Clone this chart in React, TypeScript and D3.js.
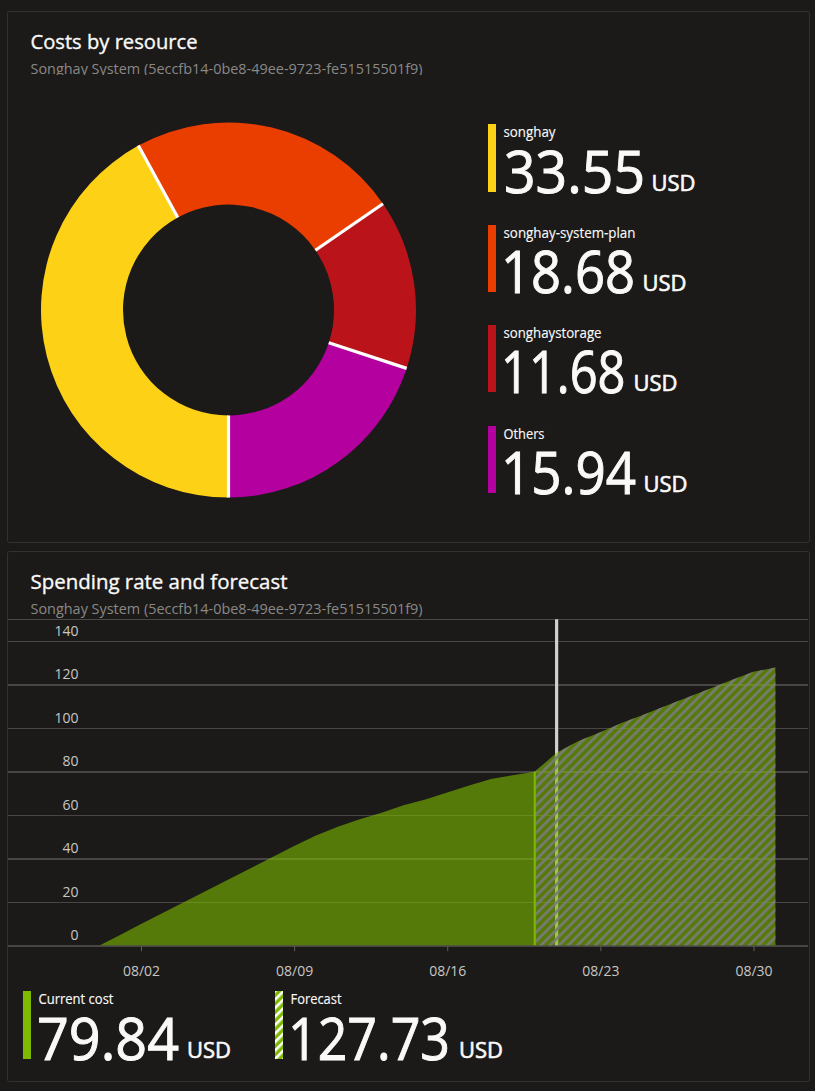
import * as d3 from "d3";
import { useEffect, useRef } from "react";

const resources = ["songhay", "songhay-system-plan", "songhaystorage", "Others"];
const resourceCosts = [33.55, 18.68, 11.68, 15.94];
const resourceColors = ["#fcd116", "#ea3e00", "#ba141a", "#b4009e"];

const currentDates = [
  "07-31 03", "08-01 00", "08-02 00", "08-09 00", "08-10 00", "08-11 00", "08-12 00", "08-13 00",
  "08-14 00", "08-15 00", "08-16 00", "08-17 00", "08-18 00", "08-19 00", "08-20 00",
];
const currentCosts = [0, 4.5, 9.7, 45.6, 50.5, 54.5, 58, 61, 64.4, 67, 70.3, 73.5, 76.5, 78.2, 79.84];

const forecastDates = [
  "08-20 00", "08-21 00", "08-22 00", "08-23 00", "08-24 00", "08-25 00", "08-26 00",
  "08-27 00", "08-28 00", "08-29 00", "08-30 00", "08-31 00",
];
const forecastCosts = [79.84, 88.5, 94, 98, 102.3, 106.2, 110.2, 114.1, 118, 122, 125.8, 127.73];

const yTicks = [0, 20, 40, 60, 80, 100, 120, 140, 150];
const xTicks = ["08-02 00", "08-09 00", "08-16 00", "08-23 00", "08-30 00"];
const today = "08-21 00";
const subtitle = "Songhay System (5eccfb14-0be8-49ee-9723-fe51515501f9)";

const FONT = "'Open Sans', sans-serif";
const parse = (s: string) => d3.timeParse("%Y-%m-%d %H")("2020-" + s) as Date;

const x = d3.scaleTime().domain([parse("08-02 00"), parse("08-30 00")]).range([141, 753.5]);
const y = d3.scaleLinear().domain([0, 150]).range([945.2, 619.2]);

const area = d3
  .area<[string, number]>()
  .x((d) => x(parse(d[0])))
  .y0(y(0))
  .y1((d) => y(d[1]));

const pie = d3.pie<number>().sort(null).startAngle(Math.PI).endAngle(3 * Math.PI);
const arcs = pie(resourceCosts);
const arc = d3.arc<d3.PieArcDatum<number>>().innerRadius(105.5).outerRadius(187.5);

const Card = ({ top, height, title, titleWidth }: { top: number; height: number; title: string; titleWidth: number }) => (
  <g>
    <rect x={7.5} y={top} width={802} height={height} rx={2} fill="#1b1a19" stroke="#323130" />
    <text x={30.5} y={top + 37} fill="#faf9f8" fontSize={20} stroke="#faf9f8" strokeWidth={0.35} textLength={titleWidth} lengthAdjust="spacingAndGlyphs">
      {title}
    </text>
    <clipPath id={`sub${top}`}>
      <rect x={20} y={top + 45} width={500} height={top > 100 ? 22.5 : 18.5} />
    </clipPath>
    <g clipPath={`url(#sub${top})`}>
      <text x={30.5} y={top + 62.5} fill="#8a8886" fontSize={14} textLength={392} lengthAdjust="spacingAndGlyphs">
        {subtitle}
      </text>
    </g>
  </g>
);

const Stat = (p: {
  x: number; y: number; h: number; label: string; value: string; swatch: string;
  valueX: number; valueWidth: number; usdX: number; labelWidth: number;
}) => (
  <g>
    <rect x={p.x} y={p.y} width={8} height={p.h} fill={p.swatch} />
    <text x={p.x + 15.5} y={p.y + 13} fill="#faf9f8" fontSize={14} stroke="#faf9f8" strokeWidth={0.15} textLength={p.labelWidth} lengthAdjust="spacingAndGlyphs">
      {p.label}
    </text>
    <text x={p.valueX} y={p.y + p.h + 1} fill="#faf9f8" fontSize={58} stroke="#faf9f8" strokeWidth={1} textLength={p.valueWidth} lengthAdjust="spacingAndGlyphs">
      {p.value}
    </text>
    <text x={p.usdX} y={p.y + p.h - 1} fill="#faf9f8" fontSize={21} stroke="#faf9f8" strokeWidth={0.6} textLength={44} lengthAdjust="spacingAndGlyphs">
      USD
    </text>
  </g>
);

const legendY = [124, 225, 325, 426];
const legendH = [68, 67, 67, 67];
const legendValueX = [504, 501, 501, 501];
const legendValueWidths = [141, 134, 124.5, 135];
const legendUsdX = [651.5, 642.5, 633.5, 643.5];
const legendLabelWidths = [52, 132, 98, 41];

export default function App() {
  const yRef = useRef<SVGGElement>(null);
  const xRef = useRef<SVGGElement>(null);

  useEffect(() => {
    if (!yRef.current || !xRef.current) return;

    // Y Axis, its ticks double as the grid
    const gy = d3.select(yRef.current);
    gy.selectAll("*").remove();
    gy.call(
      d3.axisRight(y)
        .tickValues(yTicks)
        .tickSize(800)
        .tickFormat((d) => (+d === 150 ? "" : String(d))) as any
    );
    gy.select(".domain").remove();
    gy.selectAll<SVGLineElement, number>(".tick line")
      .attr("stroke", "#484644")
      .attr("shape-rendering", "crispEdges")
      .attr("stroke-width", (d) => (d % 40 === 0 ? 2 : 1));
    gy.selectAll(".tick text")
      .attr("x", 70.5)
      .attr("dy", -5.5)
      .attr("text-anchor", "end")
      .attr("fill", "#c8c6c4")
      .attr("font-size", 14)
      .attr("font-family", FONT);

    // X Axis
    const gx = d3.select(xRef.current);
    gx.selectAll("*").remove();
    gx.call(
      d3.axisBottom(x)
        .tickValues(xTicks.map(parse))
        .tickSize(5)
        .tickFormat((d) => d3.timeFormat("%m/%d")(d as Date)) as any
    );
    gx.select(".domain").remove();
    gx.selectAll(".tick line").attr("stroke", "#605e5c");
    gx.selectAll(".tick text")
      .attr("y", 20)
      .attr("fill", "#c8c6c4")
      .attr("font-size", 14)
      .attr("font-family", FONT);
  }, []);

  const currentData = currentDates.map((d, i) => [d, currentCosts[i]] as [string, number]);
  const forecastData = forecastDates.map((d, i) => [d, forecastCosts[i]] as [string, number]);
  const edge = x(parse(forecastDates[0]));

  return (
    <svg
      width={815}
      height={1091}
      fontFamily={FONT}
      style={{ position: "absolute", left: 0, top: 0, display: "block", background: "#1b1a19" }}
    >
      <defs>
        <pattern id="hatch" width={6.4} height={8} patternUnits="userSpaceOnUse" patternTransform="rotate(45)">
          <rect width={2.8} height={8} fill="#7a7a7a" opacity={0.9} />
        </pattern>
        <pattern id="swatch" width={6} height={6} patternUnits="userSpaceOnUse" patternTransform="rotate(45)">
          <rect width={6} height={6} fill="#7fba00" />
          <rect width={2.6} height={6} fill="#ffffff" />
        </pattern>
      </defs>

      <Card top={11.5} height={531} title="Costs by resource" titleWidth={167} />
      <Card top={551.5} height={530} title="Spending rate and forecast" titleWidth={257} />

      <g transform="translate(228.5,310)">
        {arcs.map((a, i) => (
          <path key={resources[i]} d={arc(a) as string} fill={resourceColors[i]} />
        ))}
        {arcs.map((a, i) => {
          const [x1, y1] = d3.pointRadial(a.startAngle, 105.5);
          const [x2, y2] = d3.pointRadial(a.startAngle, 187.5);
          return <line key={i} x1={x1} y1={y1} x2={x2} y2={y2} stroke="#ffffff" strokeWidth={3.2} />;
        })}
      </g>

      {resources.map((r, i) => (
        <Stat
          key={r}
          x={488}
          y={legendY[i]}
          h={legendH[i]}
          label={r}
          value={resourceCosts[i].toFixed(2)}
          swatch={resourceColors[i]}
          valueX={legendValueX[i]}
          valueWidth={legendValueWidths[i]}
          usdX={legendUsdX[i]}
          labelWidth={legendLabelWidths[i]}
        />
      ))}

      <g ref={yRef} transform="translate(8,0)" />
      <line
        x1={x(parse(today))}
        x2={x(parse(today))}
        y1={y(150)}
        y2={y(0)}
        stroke="#d2d0ce"
        strokeWidth={3.2}
      />
      <path d={area(currentData) as string} fill="#7fba00" fillOpacity={0.6} />
      <path d={area(forecastData) as string} fill="#7fba00" fillOpacity={0.6} />
      <path d={area(forecastData) as string} fill="url(#hatch)" />
      <line x1={edge} x2={edge} y1={y(forecastCosts[0])} y2={y(0)} stroke="#7fba00" strokeWidth={2} />
      <g ref={xRef} transform={`translate(0,${y(0) + 1})`} />

      <Stat x={23} y={991} h={68} label="Current cost" value={currentCosts[currentCosts.length - 1].toFixed(2)} swatch="#7fba00" valueX={37} valueWidth={142} usdX={187} labelWidth={75} />
      <Stat x={275} y={991} h={68} label="Forecast" value={forecastCosts[forecastCosts.length - 1].toFixed(2)} swatch="url(#swatch)" valueX={288} valueWidth={162} usdX={459} labelWidth={51} />
    </svg>
  );
}
